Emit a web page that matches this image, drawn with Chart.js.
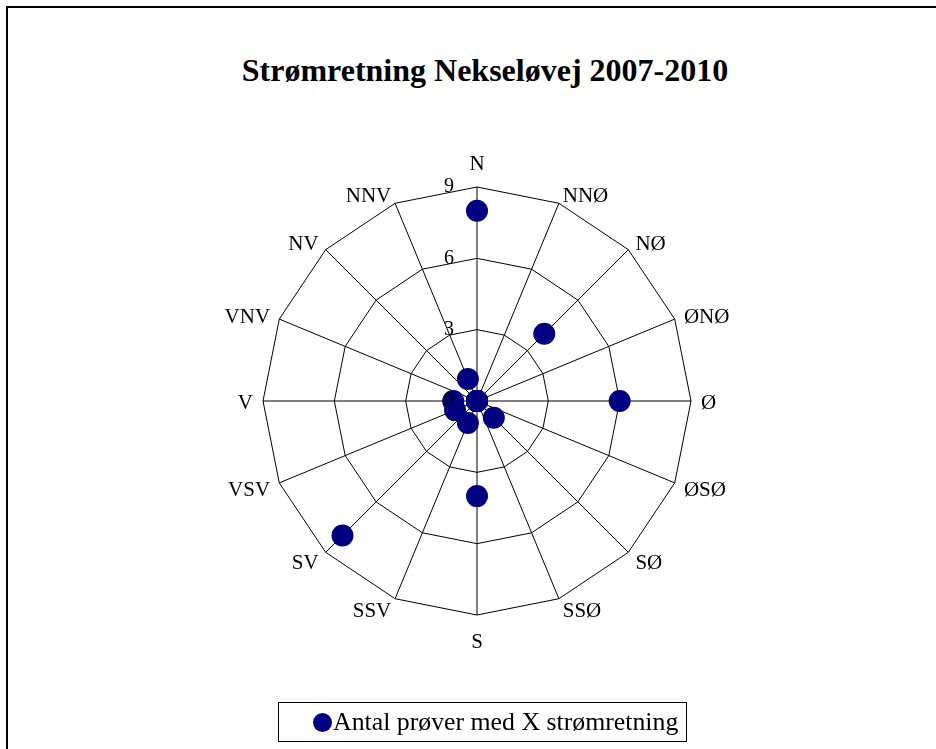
<!DOCTYPE html>
<html>
<head>
<meta charset="utf-8">
<script src="https://cdn.jsdelivr.net/npm/chart.js@4"></script>
<style>
  html, body { margin: 0; padding: 0; background: #fff; overflow: hidden; }
  #wrap { position: relative; width: 936px; height: 749px; }
  #frame { position: absolute; left: 6px; top: 6px; width: 2000px; height: 2000px; border: 2px solid #000; }
  #title { position: absolute; left: 0; width: 970px; top: 52px; text-align: center;
           font: bold 32px "Liberation Serif", "Times New Roman", serif; color: #000; }
  #legend { position: absolute; left: 278px; top: 702px; width: 409px; height: 40px; border: 1px solid #000;
            font: 25.8px "Liberation Serif", "Times New Roman", serif; color: #000; padding-left: 34px;
            display: flex; align-items: center; justify-content: flex-start; box-sizing: border-box; }
  #legend span.dot { display: inline-block; width: 19px; height: 19px; border-radius: 50%; background: #000080; margin-right: 1px; }
  canvas { position: absolute; left: 0; top: 0; }
</style>
</head>
<body>
<div id="wrap">
  <div id="frame"></div>
  <div id="title">Strømretning Nekseløvej 2007-2010</div>
  <canvas id="radar" width="936" height="749"></canvas>
  <div id="legend"><span class="dot"></span>Antal prøver med X strømretning</div>
</div>
<script>
// retninger (med uret fra N)
const directions = ['N','NNØ','NØ','ØNØ','Ø','ØSØ','SØ','SSØ','S','SSV','SV','VSV','V','VNV','NV','NNV'];
// antal prøver pr. retning
const counts = [8, 0, 4, 0, 6, 0, 1, 0, 4, 1, 8, 1, 1, 0, 0, 1];
const tickLabels = [0, 3, 6, 9];
const seriesName = 'Antal prøver med X strømretning';

const serif = '"Liberation Serif", "Times New Roman", serif';

// excel places the labels a bit differently than chart.js, so draw them here
const labelPlugin = {
    id: 'excelLabels',
    afterDraw(chart){
        const scale = chart.scales.r;
        const ctx = chart.ctx;
        ctx.save();
        ctx.fillStyle = '#000';

        // direction labels
        ctx.font = '21px ' + serif;
        ctx.textBaseline = 'middle';
        directions.forEach((name, i) => {
            const deg = Math.round(scale.getIndexAngle(i) * 180 / Math.PI) % 360;
            if(deg === 0 || deg === 180){
                const p = scale.getPointPosition(i, scale.drawingArea + 25);
                ctx.textAlign = 'center';
                ctx.fillText(name, p.x, p.y + 2);
            } else {
                const p = scale.getPointPosition(i, scale.drawingArea + 10);
                ctx.textAlign = deg < 180 ? 'left' : 'right';
                ctx.fillText(name, p.x, p.y + (deg > 90 && deg < 270 ? 4 : 2));
            }
        });

        // tick labels left of the N spoke
        ctx.font = '20px ' + serif;
        ctx.textAlign = 'right';
        for(const t of tickLabels){
            const d = scale.getDistanceFromCenterForValue(t);
            ctx.fillText(String(t), scale.xCenter - 23, scale.yCenter - d);
        }
        ctx.restore();
    }
};

new Chart(document.getElementById('radar'), {
    type: 'radar',
    data: {
        labels: directions,
        datasets: [{
            label: seriesName,
            data: counts,
            showLine: false,
            fill: false,
            pointRadius: 11,
            pointHoverRadius: 11,
            pointBackgroundColor: '#000080',
            pointBorderColor: '#000080',
            pointBorderWidth: 0,
            borderColor: '#000080'
        }]
    },
    options: {
        responsive: false,
        animation: false,
        layout: { padding: { top: 187, bottom: 134, left: 18, right: 0 } },
        plugins: {
            legend: { display: false },
            title: { display: false },
            tooltip: { enabled: false }
        },
        scales: {
            r: {
                min: 0,
                max: 9,
                ticks: { stepSize: 3, display: false },
                grid: { color: '#000', lineWidth: 1, circular: false },
                angleLines: { color: '#000', lineWidth: 1 },
                pointLabels: { display: false }
            }
        }
    },
    plugins: [labelPlugin]
});
</script>
</body>
</html>
